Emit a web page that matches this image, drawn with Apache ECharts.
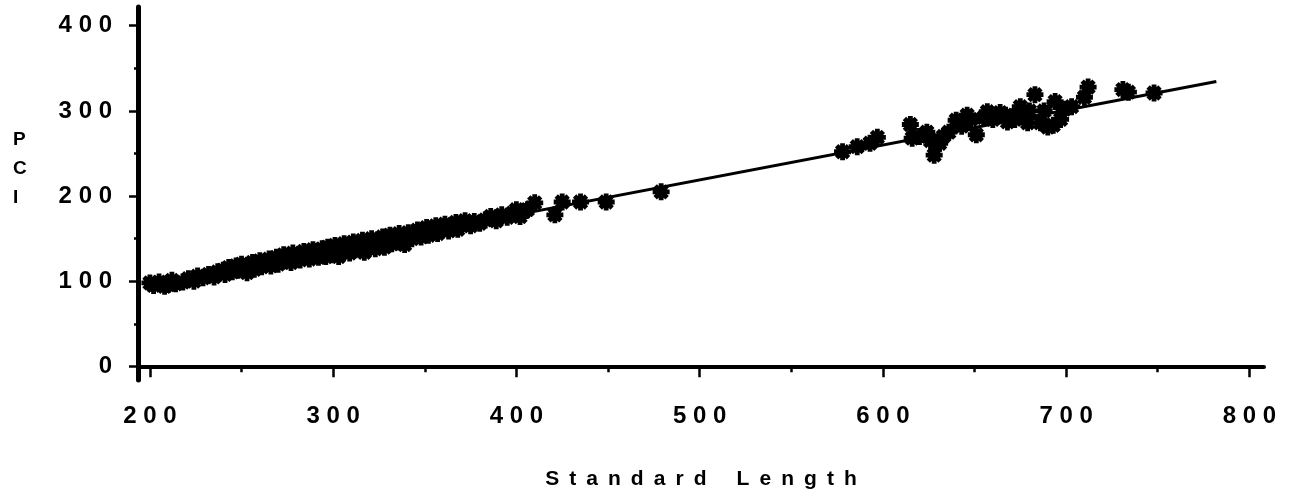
<!DOCTYPE html>
<html>
<head>
<meta charset="utf-8">
<title>PCI vs Standard Length</title>
<script src="https://cdn.jsdelivr.net/npm/echarts@6/dist/echarts.min.js"></script>
<style>
  html, body { margin: 0; padding: 0; background: #fff; }
  #chart { width: 1295px; height: 496px; }
</style>
</head>
<body>
<div id="chart"></div>
<script>
// standard length (x) of each fish
var lengthX = [
  200, 202, 205, 208, 210, 212, 214, 218, 221, 224, 226, 229, 232, 235, 237,
  240, 241, 243, 245, 247, 248, 250, 251, 253, 254, 256, 257, 258, 260, 261, 263, 265, 266,
  268, 269, 270, 272, 273, 274, 276, 277, 278, 280, 281, 282, 284, 285, 286, 287, 289, 290,
  291, 292, 294, 295, 296, 297, 298, 299, 300, 301, 302, 303,
  304, 305, 306, 308, 309, 310, 311, 312, 314, 315, 316, 317, 318, 320, 321, 322, 323, 325,
  326, 327, 328, 330, 331, 332, 334, 335, 336, 338, 339, 340, 341, 343,
  345, 346, 348, 350, 351, 352, 354, 356, 357, 359, 361, 363, 365, 367, 368, 370, 372, 375, 377, 380,
  383, 386, 389, 392, 395, 398, 400, 402, 404, 406, 410, 421, 425, 435, 449, 479,
  578, 586, 593, 597, 615, 616, 624, 628, 631, 636, 640, 646, 651, 657, 664, 668, 671, 675,
  679, 683, 686, 690, 693, 694, 703, 710, 712, 731, 734, 748,
  620, 626, 633, 643, 648, 655, 660, 667, 672, 677, 680, 688, 697, 699
];
// PCI (y) of each fish
var pciY = [
  98, 95, 99, 94, 96, 101, 97, 99, 103, 100, 106, 104, 108, 105, 111,
  113, 108, 116, 111, 118, 113, 120, 115, 110, 118, 122, 114, 119, 124, 117, 121, 126, 118,
  123, 128, 120, 126, 131, 124, 128, 122, 133, 127, 131, 125, 135, 129, 133, 126, 137, 131,
  135, 128, 138, 133, 129, 140, 135, 131, 138, 142, 134, 129,
  140, 136, 144, 138, 133, 142, 146, 137, 143, 139, 148, 134, 145, 141, 150, 146, 138, 148,
  143, 152, 140, 147, 154, 144, 151, 146, 156, 149, 143, 153, 157, 150,
  155, 160, 152, 158, 163, 154, 160, 165, 156, 162, 167, 159, 164, 169, 161, 166, 171, 165, 170, 168,
  172, 176, 171, 178, 175, 180, 184, 176, 182, 184, 192, 178, 193, 193, 193, 205,
  252, 258, 262, 269, 284, 268, 275, 248, 262, 275, 289, 295, 272, 299, 298, 287, 293, 305,
  286, 319, 286, 281, 283, 311, 305, 316, 328, 325, 322, 321,
  270, 265, 270, 282, 290, 292, 290, 295, 290, 297, 300, 300, 290, 302
];

// fitted regression line
var fitX = [200, 782];
var fitY = [96, 334.5];

// tick labels
var xMajor = [200, 300, 400, 500, 600, 700, 800];
var xMinor = [250, 350, 450, 550, 650, 750];
var yMajor = [0, 100, 200, 300, 400];
var yMinor = [50, 150, 250, 350];

var SEP = ' \u2009';
function spaced(s, sep) {
  return String(s).split('').join(sep === undefined ? ' ' : sep);
}

// asterisk shaped marker
var STAR = 'path://M4 37L96 37L96 63L4 63Z M37 4L63 4L63 96L37 96Z ' +
  'M27 8.6L91.4 73L73 91.4L8.6 27Z M73 8.6L91.4 27L27 91.4L8.6 73Z';

var points = [];
for (var i = 0; i < lengthX.length; i++) {
  points.push([lengthX[i], pciY[i]]);
}
var fitLine = [];
for (var j = 0; j < fitX.length; j++) {
  fitLine.push([fitX[j], fitY[j]]);
}

var labelFont = {
  color: '#000',
  fontFamily: 'Liberation Sans',
  fontWeight: 'bold',
  fontSize: 24
};

var chart = echarts.init(document.getElementById('chart'));
var option = {
  animation: false,
  backgroundColor: '#fff',
  grid: { left: 138, right: 31, top: 7, bottom: 116 },
  xAxis: [
    {
      type: 'value',
      min: 193.5,
      max: 808,
      position: 'bottom',
      name: spaced('Standard', SEP) + SEP + SEP + SEP + spaced('Length', SEP),
      nameLocation: 'middle',
      nameGap: 89,
      nameTextStyle: {
        color: '#000',
        fontFamily: 'Liberation Sans',
        fontWeight: 'bold',
        fontSize: 21
      },
      axisLine: { lineStyle: { color: '#000', width: 4 } },
      axisTick: { customValues: xMajor, length: 11, lineStyle: { color: '#000', width: 2.5 } },
      axisLabel: Object.assign({ customValues: xMajor, margin: 24, formatter: function (v) { return spaced(v); } }, labelFont),
      splitLine: { show: false }
    },
    {
      // minor ticks
      type: 'value',
      min: 193.5,
      max: 808,
      position: 'bottom',
      axisLine: { show: false },
      axisTick: { customValues: xMinor, length: 6, lineStyle: { color: '#000', width: 2.5 } },
      axisLabel: { show: false },
      splitLine: { show: false }
    }
  ],
  yAxis: [
    {
      type: 'value',
      min: -16,
      max: 422,
      position: 'left',
      axisLine: { show: true, lineStyle: { color: '#000', width: 5 } },
      axisTick: { show: true, customValues: yMajor, length: 9, lineStyle: { color: '#000', width: 2.5 } },
      axisLabel: Object.assign({ customValues: yMajor, margin: 26, formatter: function (v) { return spaced(v); } }, labelFont),
      splitLine: { show: false }
    },
    {
      // minor ticks
      type: 'value',
      min: -16,
      max: 422,
      position: 'left',
      axisLine: { show: false },
      axisTick: { show: true, customValues: yMinor, length: 4, lineStyle: { color: '#000', width: 2.5 } },
      axisLabel: { show: false },
      splitLine: { show: false }
    }
  ],
  graphic: [
    {
      type: 'text',
      left: 13,
      top: 125,
      style: {
        text: 'P\nC\nI',
        fill: '#000',
        font: 'bold 19px "Liberation Sans"',
        lineHeight: 29,
        align: 'center'
      }
    }
  ],
  series: [
    {
      name: 'PCI',
      type: 'scatter',
      xAxisIndex: 0,
      yAxisIndex: 0,
      symbol: STAR,
      symbolSize: 17,
      itemStyle: { color: '#000', opacity: 1 },
      data: points
    },
    {
      name: 'fit',
      type: 'line',
      xAxisIndex: 0,
      yAxisIndex: 0,
      showSymbol: false,
      lineStyle: { color: '#000', width: 3 },
      data: fitLine
    }
  ]
};
chart.setOption(option);
</script>
</body>
</html>
